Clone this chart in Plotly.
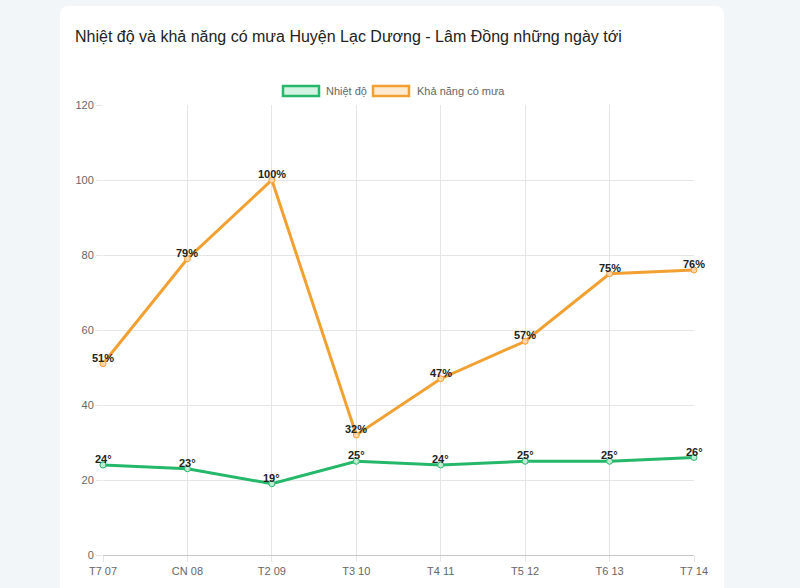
import plotly.graph_objects as go

days = ["T7 07", "CN 08", "T2 09", "T3 10", "T4 11", "T5 12", "T6 13", "T7 14"]
temps = [24, 23, 19, 25, 24, 25, 25, 26]
rain = [51, 79, 100, 32, 47, 57, 75, 76]
title_text = "Nhiệt độ và khả năng có mưa Huyện Lạc Dương - Lâm Đồng những ngày tới"
legend_names = ["Nhiệt độ", "Khả năng có mưa"]

W, H = 800, 588
L, R, T, B = 103, 694, 105, 555
PW, PH = R - L, B - T


def px(x):
    return (x - L) / PW


def py(y):
    return (B - y) / PH


GREEN = "rgb(38,184,106)"
ORANGE = "rgb(242,160,50)"
FONT = "Liberation Sans, Arial, sans-serif"

fig = go.Figure()
fig.add_trace(go.Scatter(
    x=days, y=temps, mode="lines+markers",
    name=legend_names[0],
    line=dict(color=GREEN, width=3),
    marker=dict(size=6, color="rgba(190,235,210,1)", line=dict(color=GREEN, width=1)),
    cliponaxis=False,
))
fig.add_trace(go.Scatter(
    x=days, y=rain, mode="lines+markers",
    name=legend_names[1],
    line=dict(color=ORANGE, width=3),
    marker=dict(size=6, color="rgba(250,215,170,1)", line=dict(color=ORANGE, width=1)),
    cliponaxis=False,
))

# card background
x0, x1 = px(60), px(724)
y0, y1 = py(6), py(620)
rx, ry = 9 / PW, 9 / PH
card = (f"M {x0+rx} {y0} L {x1-rx} {y0} Q {x1} {y0} {x1} {y0-ry} "
        f"L {x1} {y1} L {x0} {y1} L {x0} {y0-ry} Q {x0} {y0} {x0+rx} {y0} Z")
shapes = [dict(type="path", xref="paper", yref="paper", path=card,
               fillcolor="white", line=dict(width=0), layer="below")]

# legend boxes
shapes.append(dict(type="rect", xref="paper", yref="paper",
                   x0=px(283), x1=px(319), y0=py(86), y1=py(96),
                   fillcolor="rgb(210,243,225)", line=dict(color=GREEN, width=2.5)))
shapes.append(dict(type="rect", xref="paper", yref="paper",
                   x0=px(373), x1=px(409), y0=py(86), y1=py(96),
                   fillcolor="rgb(253,234,208)", line=dict(color=ORANGE, width=2.5)))

annotations = [
    dict(text=title_text, xref="paper", yref="paper", x=px(73), y=py(36),
         xanchor="left", yanchor="middle", showarrow=False,
         font=dict(family=FONT, size=16, color="#222")),
    dict(text=legend_names[0], xref="paper", yref="paper", x=px(324), y=py(91),
         xanchor="left", yanchor="middle", showarrow=False,
         font=dict(family=FONT, size=11, color="#666")),
    dict(text=legend_names[1], xref="paper", yref="paper", x=px(415), y=py(91),
         xanchor="left", yanchor="middle", showarrow=False,
         font=dict(family=FONT, size=11, color="#666")),
]

for d, v in zip(days, temps):
    annotations.append(dict(text=f"<b>{v}°</b>", x=d, y=v, xref="x", yref="y",
                            xanchor="center", yanchor="bottom", yshift=-2,
                            showarrow=False,
                            font=dict(family=FONT, size=11, color="#222")))
for d, v in zip(days, rain):
    annotations.append(dict(text=f"<b>{v}%</b>", x=d, y=v, xref="x", yref="y",
                            xanchor="center", yanchor="bottom", yshift=-2,
                            showarrow=False,
                            font=dict(family=FONT, size=11, color="#222")))

fig.update_layout(
    width=W, height=H,
    margin=dict(l=L, r=W - R, t=T, b=H - B, pad=0),
    paper_bgcolor="rgb(243,246,248)",
    plot_bgcolor="rgba(0,0,0,0)",
    showlegend=False,
    shapes=shapes,
    annotations=annotations,
    font=dict(family=FONT, size=11, color="#666"),
)
fig.update_xaxes(
    type="category", range=[0, len(days) - 1],
    showgrid=True, gridcolor="rgb(229,229,229)", gridwidth=1,
    showline=False, zeroline=False,
    ticks="outside", ticklen=6, tickcolor="rgb(229,229,229)",
    tickfont=dict(family=FONT, size=11, color="#666"),
)
fig.update_yaxes(
    range=[0, 120], dtick=20,
    showgrid=True, gridcolor="rgb(229,229,229)", gridwidth=1,
    zeroline=True, zerolinecolor="rgb(200,200,200)", zerolinewidth=1,
    showline=False,
    ticks="outside", ticklen=6, tickcolor="rgb(229,229,229)",
    tickfont=dict(family=FONT, size=11, color="#666"),
)

fig.write_html("out.html")
